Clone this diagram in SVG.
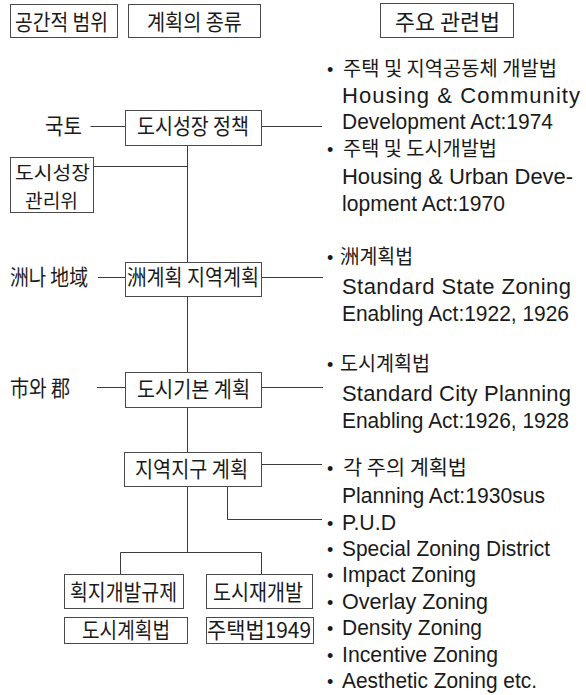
<svg xmlns="http://www.w3.org/2000/svg" width="586" height="695" viewBox="0 0 586 695">
<style>
.bx{fill:#fff;stroke:#4a4a4a;stroke-width:1}
.ln{fill:none;stroke:#3a3a3a;stroke-width:1}
.ko{font-family:"Noto Sans CJK KR","Noto Sans",sans-serif;font-size:22px;fill:#1a1a1a}
.ks{font-family:"Noto Sans CJK KR","Noto Sans",sans-serif;font-size:19px;fill:#1a1a1a}
.kr{font-family:"Noto Sans CJK KR","Noto Sans",sans-serif;font-size:20px;fill:#1a1a1a}
.en{font-family:"Liberation Sans",Arial,sans-serif;font-size:22px;fill:#1a1a1a}
.bu{font-family:"Liberation Sans",Arial,sans-serif;font-size:18px;fill:#1a1a1a}
</style>
<rect width="586" height="695" fill="#fff"/>

<g id="connectors" class="ln">
<path d="M90.5 126.5H125"/>
<path d="M261 126.5H322"/>
<path d="M187.5 145V262"/>
<path d="M93 166.5H187.5"/>
<path d="M98 277.5H125"/>
<path d="M261 277.5H323"/>
<path d="M187.5 296V372"/>
<path d="M97 387.5H125"/>
<path d="M261 387.5H323"/>
<path d="M187.5 407V452"/>
<path d="M261 464.5H322"/>
<path d="M227.5 486V519.5H322"/>
<path d="M187.5 486V552.5"/>
<path d="M120.5 574V552.5H261.5V574"/>
</g>

<g id="h-scope"><rect class="bx" x="10.5" y="4.5" width="107" height="33"/><text class="ko" x="15" y="30.4" textLength="93" lengthAdjust="spacingAndGlyphs">공간적 범위</text></g>
<g id="h-type"><rect class="bx" x="128.5" y="4.5" width="132" height="33"/><text class="ko" x="147" y="30.4" textLength="95" lengthAdjust="spacingAndGlyphs">계획의 종류</text></g>
<g id="h-law"><rect class="bx" x="380.5" y="3.5" width="133" height="34"/><text class="ko" x="395" y="30.4" textLength="105" lengthAdjust="spacingAndGlyphs">주요 관련법</text></g>

<g id="l-national"><text class="ko" x="45" y="134.4" textLength="37" lengthAdjust="spacingAndGlyphs">국토</text></g>
<g id="n-growth"><rect class="bx" x="125.5" y="110.5" width="136" height="35"/><text class="ko" x="137" y="134.4" textLength="112" lengthAdjust="spacingAndGlyphs">도시성장 정책</text></g>
<g id="n-committee"><rect class="bx" x="10.5" y="157.5" width="83" height="55"/><text class="ks" x="15" y="179.5" textLength="75" lengthAdjust="spacingAndGlyphs">도시성장</text><text class="ks" x="25" y="207.5" textLength="53" lengthAdjust="spacingAndGlyphs">관리위</text></g>

<g id="l-state"><text class="ko" x="10" y="285.4" textLength="78" lengthAdjust="spacingAndGlyphs">洲나 地域</text></g>
<g id="n-state"><rect class="bx" x="125.5" y="262.5" width="136" height="34"/><text class="ko" x="127" y="285.4" textLength="132" lengthAdjust="spacingAndGlyphs">洲계획 지역계획</text></g>

<g id="l-city"><text class="ko" x="10" y="396.4" textLength="60" lengthAdjust="spacingAndGlyphs">市와 郡</text></g>
<g id="n-basic"><rect class="bx" x="125.5" y="372.5" width="136" height="35"/><text class="ko" x="137" y="397.4" textLength="113" lengthAdjust="spacingAndGlyphs">도시기본 계획</text></g>

<g id="n-zoning"><rect class="bx" x="124.5" y="452.5" width="137" height="34"/><text class="ko" x="135" y="477.4" textLength="113" lengthAdjust="spacingAndGlyphs">지역지구 계획</text></g>

<g id="n-subdiv"><rect class="bx" x="64.5" y="574.5" width="119" height="34"/><text class="ko" x="70" y="600.4" textLength="107" lengthAdjust="spacingAndGlyphs">획지개발규제</text></g>
<g id="n-renewal"><rect class="bx" x="206.5" y="574.5" width="106" height="34"/><text class="ko" x="213" y="600.4" textLength="90" lengthAdjust="spacingAndGlyphs">도시재개발</text></g>
<g id="n-planlaw"><rect class="bx" x="64.5" y="617.5" width="123" height="26"/><text class="ko" x="82" y="638.4" textLength="88" lengthAdjust="spacingAndGlyphs">도시계획법</text></g>
<g id="n-housinglaw"><rect class="bx" x="206.5" y="617.5" width="107" height="26"/><text class="ko" x="207" y="638.4" textLength="104" lengthAdjust="spacingAndGlyphs">주택법1949</text></g>

<g id="laws-1">
<text class="bu" x="327" y="76">•</text><text class="kr" x="343" y="76" textLength="214" lengthAdjust="spacingAndGlyphs">주택 및 지역공동체 개발법</text>
<text class="en" x="342" y="102.5" textLength="238" lengthAdjust="spacing">Housing &amp; Community</text>
<text class="en" x="342" y="128.5" textLength="211" lengthAdjust="spacingAndGlyphs">Development Act:1974</text>
<text class="bu" x="327" y="155.5">•</text><text class="kr" x="343" y="155.5" textLength="154" lengthAdjust="spacingAndGlyphs">주택 및 도시개발법</text>
<text class="en" x="342" y="184" textLength="231" lengthAdjust="spacing">Housing &amp; Urban Deve-</text>
<text class="en" x="342" y="211" textLength="163" lengthAdjust="spacingAndGlyphs">lopment Act:1970</text>
</g>

<g id="laws-2">
<text class="bu" x="327" y="264">•</text><text class="kr" x="340" y="264" textLength="73" lengthAdjust="spacingAndGlyphs">洲계획법</text>
<text class="en" x="342" y="294" textLength="229" lengthAdjust="spacing">Standard State Zoning</text>
<text class="en" x="342" y="321" textLength="227" lengthAdjust="spacingAndGlyphs">Enabling Act:1922, 1926</text>
</g>

<g id="laws-3">
<text class="bu" x="327" y="371">•</text><text class="kr" x="340" y="371" textLength="90" lengthAdjust="spacingAndGlyphs">도시계획법</text>
<text class="en" x="342" y="401" textLength="229" lengthAdjust="spacing">Standard City Planning</text>
<text class="en" x="342" y="428" textLength="227" lengthAdjust="spacingAndGlyphs">Enabling Act:1926, 1928</text>
</g>

<g id="laws-4">
<text class="bu" x="327" y="475">•</text><text class="kr" x="343" y="475" textLength="124" lengthAdjust="spacingAndGlyphs">각 주의 계획법</text>
<text class="en" x="342" y="503" textLength="203" lengthAdjust="spacingAndGlyphs">Planning Act:1930sus</text>
<text class="bu" x="327" y="529.5">•</text><text class="en" x="342" y="529.5" textLength="54" lengthAdjust="spacingAndGlyphs">P.U.D</text>
<text class="bu" x="327" y="556">•</text><text class="en" x="342" y="556" textLength="208" lengthAdjust="spacingAndGlyphs">Special Zoning District</text>
<text class="bu" x="327" y="582">•</text><text class="en" x="342" y="582" textLength="134" lengthAdjust="spacingAndGlyphs">Impact Zoning</text>
<text class="bu" x="327" y="608.5">•</text><text class="en" x="342" y="608.5" textLength="146" lengthAdjust="spacingAndGlyphs">Overlay Zoning</text>
<text class="bu" x="327" y="635">•</text><text class="en" x="342" y="635" textLength="140" lengthAdjust="spacingAndGlyphs">Density Zoning</text>
<text class="bu" x="327" y="661.5">•</text><text class="en" x="342" y="661.5" textLength="156" lengthAdjust="spacingAndGlyphs">Incentive Zoning</text>
<text class="bu" x="327" y="688">•</text><text class="en" x="342" y="688" textLength="195" lengthAdjust="spacingAndGlyphs">Aesthetic Zoning etc.</text>
</g>
</svg>
